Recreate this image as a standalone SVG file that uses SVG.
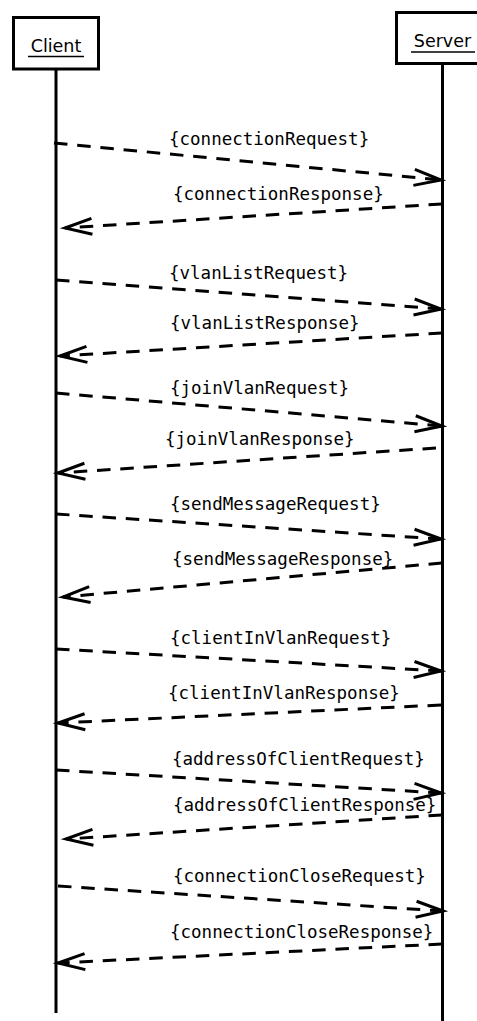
<svg xmlns="http://www.w3.org/2000/svg" width="477" height="1021" viewBox="0 0 477 1021">
<style>
.box{fill:#fff;stroke:#000;stroke-width:3}
.life{stroke:#000;stroke-width:3;fill:none}
.name{font-family:"DejaVu Sans",sans-serif;font-size:17.5px;fill:#000}
.ul{stroke:#000;stroke-width:1.5}
.msg{stroke:#000;stroke-width:3;fill:none;stroke-dasharray:13.5,9.8;marker-end:url(#open)}
.lbl{font-family:"DejaVu Sans Mono",monospace;font-size:17.5px;fill:#000}
</style>
<defs>
<marker id="open" markerUnits="userSpaceOnUse" viewBox="-30 -10 32 20" refX="0" refY="0" markerWidth="32" markerHeight="20" orient="auto" overflow="visible">
<path d="M-27,-8 L0,0 L-27,8" fill="none" stroke="#000" stroke-width="3" stroke-dasharray="none"/>
</marker>
</defs>
<rect width="477" height="1021" fill="#fff"/>
<g id="client">
<line class="life" x1="56" y1="69" x2="56" y2="1013"/>
<rect class="box" x="13.5" y="17.5" width="85" height="51.5"/>
<text class="name" x="56" y="52" text-anchor="middle">Client</text>
<line class="ul" x1="28" y1="56.5" x2="84" y2="56.5"/>
</g>
<g id="server">
<line class="life" x1="442.5" y1="63" x2="442.5" y2="1021"/>
<rect class="box" x="396.5" y="12.5" width="100" height="51"/>
<text class="name" x="442.5" y="47" text-anchor="middle">Server</text>
<line class="ul" x1="411" y1="52" x2="475" y2="52"/>
</g>
<g id="connectors">
<path class="msg" d="M54,143 L441,180"/>
<path class="msg" d="M442,204 L65,228"/>
<path class="msg" d="M56,280 L441,309"/>
<path class="msg" d="M442,333 L60,356"/>
<path class="msg" d="M56,393 L442,426"/>
<path class="msg" d="M436,448 L58,473"/>
<path class="msg" d="M56,514 L441,539"/>
<path class="msg" d="M442,563 L63,597"/>
<path class="msg" d="M56,649 L441,671"/>
<path class="msg" d="M441,705 L58,723"/>
<path class="msg" d="M56,770 L441,793"/>
<path class="msg" d="M442,815 L66,839"/>
<path class="msg" d="M58,886 L443,911"/>
<path class="msg" d="M442,944 L58,963"/>
</g>
<g id="labels">
<text class="lbl" x="169" y="145">{connectionRequest}</text>
<text class="lbl" x="173" y="200">{connectionResponse}</text>
<text class="lbl" x="169" y="279">{vlanListRequest}</text>
<text class="lbl" x="170" y="329">{vlanListResponse}</text>
<text class="lbl" x="170" y="394">{joinVlanRequest}</text>
<text class="lbl" x="165" y="445">{joinVlanResponse}</text>
<text class="lbl" x="170" y="510">{sendMessageRequest}</text>
<text class="lbl" x="172" y="565">{sendMessageResponse}</text>
<text class="lbl" x="170" y="644">{clientInVlanRequest}</text>
<text class="lbl" x="168" y="699">{clientInVlanResponse}</text>
<text class="lbl" x="172" y="765">{addressOfClientRequest}</text>
<text class="lbl" x="173" y="811">{addressOfClientResponse}</text>
<text class="lbl" x="173" y="882">{connectionCloseRequest}</text>
<text class="lbl" x="170" y="938">{connectionCloseResponse}</text>
</g>
</svg>
